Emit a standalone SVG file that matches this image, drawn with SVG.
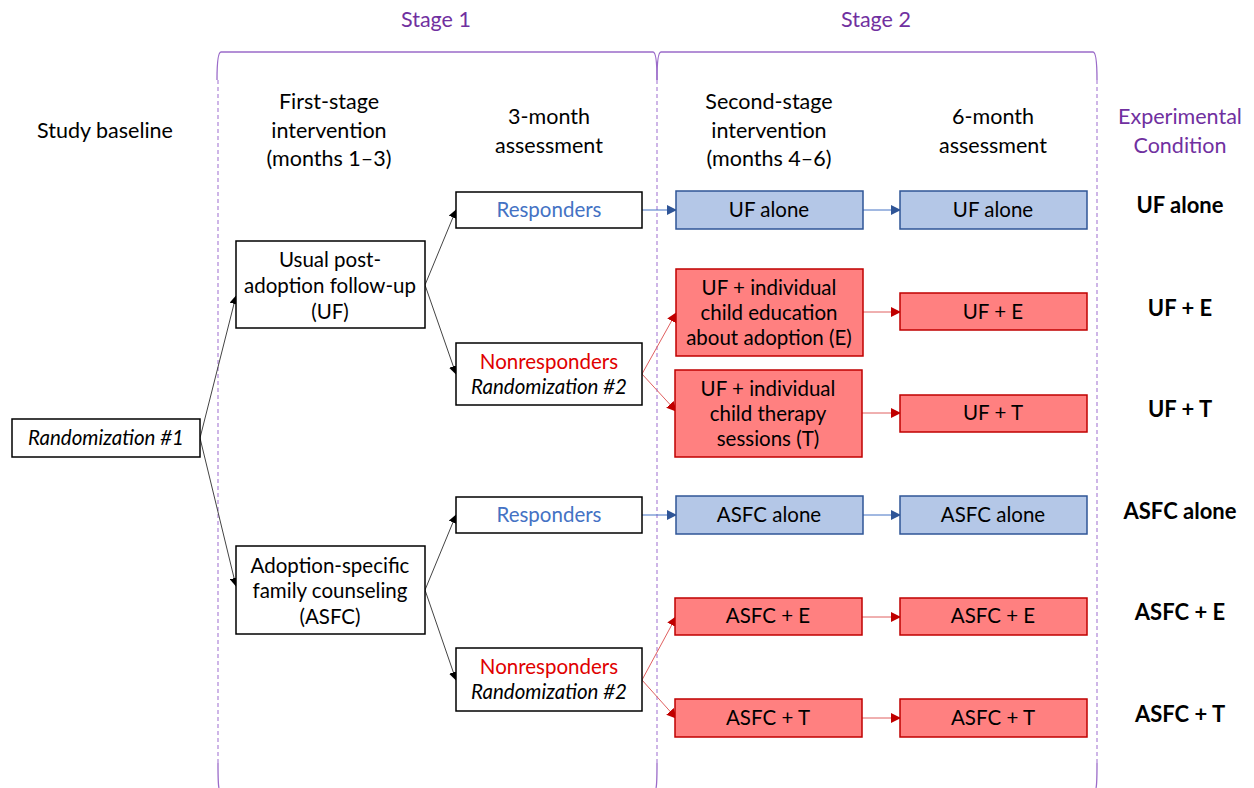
<svg xmlns="http://www.w3.org/2000/svg" width="1254" height="788" viewBox="0 0 1254 788">
<defs>
<style>
text{font-family:Lato,"Open Sans","Liberation Sans",sans-serif;font-size:20.5px;fill:#000;text-anchor:middle}
.hdr{font-size:21.5px}
.pur{fill:#7030a0}
.it{font-style:italic}
.blue{fill:#4472c4}
.red{fill:#e00000}
.bold{font-weight:bold;font-size:22px}
.wbox{fill:#fff;stroke:#000;stroke-width:1.5}
.bbox{fill:#b4c7e7;stroke:#2f5597;stroke-width:1.5}
.rbox{fill:#ff8080;stroke:#c00000;stroke-width:1.5}
.k{stroke:#444;stroke-width:1;fill:none}
.bl{stroke:#4472c4;stroke-width:1;fill:none}
.rl{stroke:#e06060;stroke-width:1;fill:none}
.brk{stroke:#9b6bc9;stroke-width:1.3;fill:none}
.dash{stroke:#b48fdb;stroke-width:1.3;fill:none;stroke-dasharray:4 3}
</style>
<marker id="ak" viewBox="0 0 10 10" refX="9" refY="5" markerWidth="9" markerHeight="9" markerUnits="userSpaceOnUse" orient="auto"><path d="M0,0L10,5L0,10z" fill="#000"/></marker>
<marker id="ab" viewBox="0 0 10 10" refX="9" refY="5" markerWidth="10" markerHeight="10" markerUnits="userSpaceOnUse" orient="auto"><path d="M0,0L10,5L0,10z" fill="#2f5597"/></marker>
<marker id="ar" viewBox="0 0 10 10" refX="9" refY="5" markerWidth="10" markerHeight="10" markerUnits="userSpaceOnUse" orient="auto"><path d="M0,0L10,5L0,10z" fill="#c00000"/></marker>
</defs>
<rect width="1254" height="788" fill="#fff"/>

<g id="stages">
<text class="hdr pur" x="436" y="27">Stage 1</text>
<text class="hdr pur" x="876" y="27">Stage 2</text>
<path class="brk" d="M217,80 Q217,52 221,52 L653,52 Q657,52 657,80"/>
<path class="brk" d="M657,80 Q657,52 661,52 L1093,52 Q1097,52 1097,80"/>
<path class="dash" d="M218,80V763M657,80V763M1097,80V763"/>
<path class="brk" d="M218,763 Q218,785 219,788M657,763 Q657,785 656,788M1097,763 Q1097,785 1096,788"/>
</g>

<g id="headers">
<text class="hdr" x="105" y="138">Study baseline</text>
<text class="hdr" x="329" y="109">First-stage</text>
<text class="hdr" x="329" y="138">intervention</text>
<text class="hdr" x="329" y="166">(months 1–3)</text>
<text class="hdr" x="549" y="124">3-month</text>
<text class="hdr" x="549" y="153">assessment</text>
<text class="hdr" x="769" y="109">Second-stage</text>
<text class="hdr" x="769" y="138">intervention</text>
<text class="hdr" x="769" y="166">(months 4–6)</text>
<text class="hdr" x="993" y="124">6-month</text>
<text class="hdr" x="993" y="153">assessment</text>
<text class="hdr pur" x="1180" y="124">Experimental</text>
<text class="hdr pur" x="1180" y="153">Condition</text>
</g>

<g id="connectors">
<path class="k" d="M200,438L236,296" marker-end="url(#ak)"/>
<path class="k" d="M200,438L236,586" marker-end="url(#ak)"/>
<path class="k" d="M425,285L456,210" marker-end="url(#ak)"/>
<path class="k" d="M425,285L456,374" marker-end="url(#ak)"/>
<path class="k" d="M425,590L456,515" marker-end="url(#ak)"/>
<path class="k" d="M425,590L456,680" marker-end="url(#ak)"/>
<path class="bl" d="M642,210H676" marker-end="url(#ab)"/>
<path class="bl" d="M863,210H900" marker-end="url(#ab)"/>
<path class="bl" d="M642,515H676" marker-end="url(#ab)"/>
<path class="bl" d="M863,515H900" marker-end="url(#ab)"/>
<path class="rl" d="M642,374L676,313" marker-end="url(#ar)"/>
<path class="rl" d="M642,374L676,411" marker-end="url(#ar)"/>
<path class="rl" d="M863,312H900" marker-end="url(#ar)"/>
<path class="rl" d="M862,413H900" marker-end="url(#ar)"/>
<path class="rl" d="M642,680L676,617" marker-end="url(#ar)"/>
<path class="rl" d="M642,680L676,718" marker-end="url(#ar)"/>
<path class="rl" d="M862,617H900" marker-end="url(#ar)"/>
<path class="rl" d="M862,718H900" marker-end="url(#ar)"/>
</g>

<g id="rand1"><rect class="wbox" x="12" y="419" width="188" height="38"/><text class="it" x="106" y="445">Randomization #1</text></g>
<g id="uf"><rect class="wbox" x="236" y="241" width="189" height="87"/>
<text x="330" y="267">Usual post-</text><text x="330" y="293">adoption follow-up</text><text x="330" y="319">(UF)</text></g>
<g id="asfc"><rect class="wbox" x="236" y="546" width="189" height="88"/>
<text x="330" y="573">Adoption-specific</text><text x="330" y="598">family counseling</text><text x="330" y="624">(ASFC)</text></g>

<g id="resp1"><rect class="wbox" x="456" y="192" width="186" height="36"/><text class="blue" x="549" y="217">Responders</text></g>
<g id="nonresp1"><rect class="wbox" x="456" y="343" width="186" height="62"/><text class="red" x="549" y="369">Nonresponders</text><text class="it" x="549" y="394">Randomization #2</text></g>
<g id="resp2"><rect class="wbox" x="456" y="497" width="186" height="36"/><text class="blue" x="549" y="522">Responders</text></g>
<g id="nonresp2"><rect class="wbox" x="456" y="648" width="186" height="63"/><text class="red" x="549" y="674">Nonresponders</text><text class="it" x="549" y="699">Randomization #2</text></g>

<g id="s2-uf-alone"><rect class="bbox" x="676" y="191" width="187" height="38"/><text x="769" y="217">UF alone</text></g>
<g id="m6-uf-alone"><rect class="bbox" x="900" y="191" width="187" height="38"/><text x="993" y="217">UF alone</text></g>
<g id="s2-uf-e"><rect class="rbox" x="676" y="269" width="187" height="87"/>
<text x="769" y="295">UF + individual</text><text x="769" y="320">child education</text><text x="769" y="345">about adoption (E)</text></g>
<g id="m6-uf-e"><rect class="rbox" x="900" y="293" width="187" height="37"/><text x="993" y="319">UF + E</text></g>
<g id="s2-uf-t"><rect class="rbox" x="675" y="370" width="187" height="87"/>
<text x="768" y="396">UF + individual</text><text x="768" y="421">child therapy</text><text x="768" y="446">sessions (T)</text></g>
<g id="m6-uf-t"><rect class="rbox" x="900" y="395" width="187" height="37"/><text x="993" y="420">UF + T</text></g>
<g id="s2-asfc-alone"><rect class="bbox" x="676" y="496" width="187" height="38"/><text x="769" y="522">ASFC alone</text></g>
<g id="m6-asfc-alone"><rect class="bbox" x="900" y="496" width="187" height="38"/><text x="993" y="522">ASFC alone</text></g>
<g id="s2-asfc-e"><rect class="rbox" x="675" y="598" width="187" height="37"/><text x="768" y="623">ASFC + E</text></g>
<g id="m6-asfc-e"><rect class="rbox" x="900" y="598" width="187" height="37"/><text x="993" y="623">ASFC + E</text></g>
<g id="s2-asfc-t"><rect class="rbox" x="675" y="699" width="187" height="38"/><text x="768" y="725">ASFC + T</text></g>
<g id="m6-asfc-t"><rect class="rbox" x="900" y="699" width="187" height="38"/><text x="993" y="725">ASFC + T</text></g>

<g id="conditions">
<text class="bold" x="1180" y="213">UF alone</text>
<text class="bold" x="1180" y="316">UF + E</text>
<text class="bold" x="1180" y="417">UF + T</text>
<text class="bold" x="1180" y="519">ASFC alone</text>
<text class="bold" x="1180" y="620">ASFC + E</text>
<text class="bold" x="1180" y="722">ASFC + T</text>
</g>
</svg>
